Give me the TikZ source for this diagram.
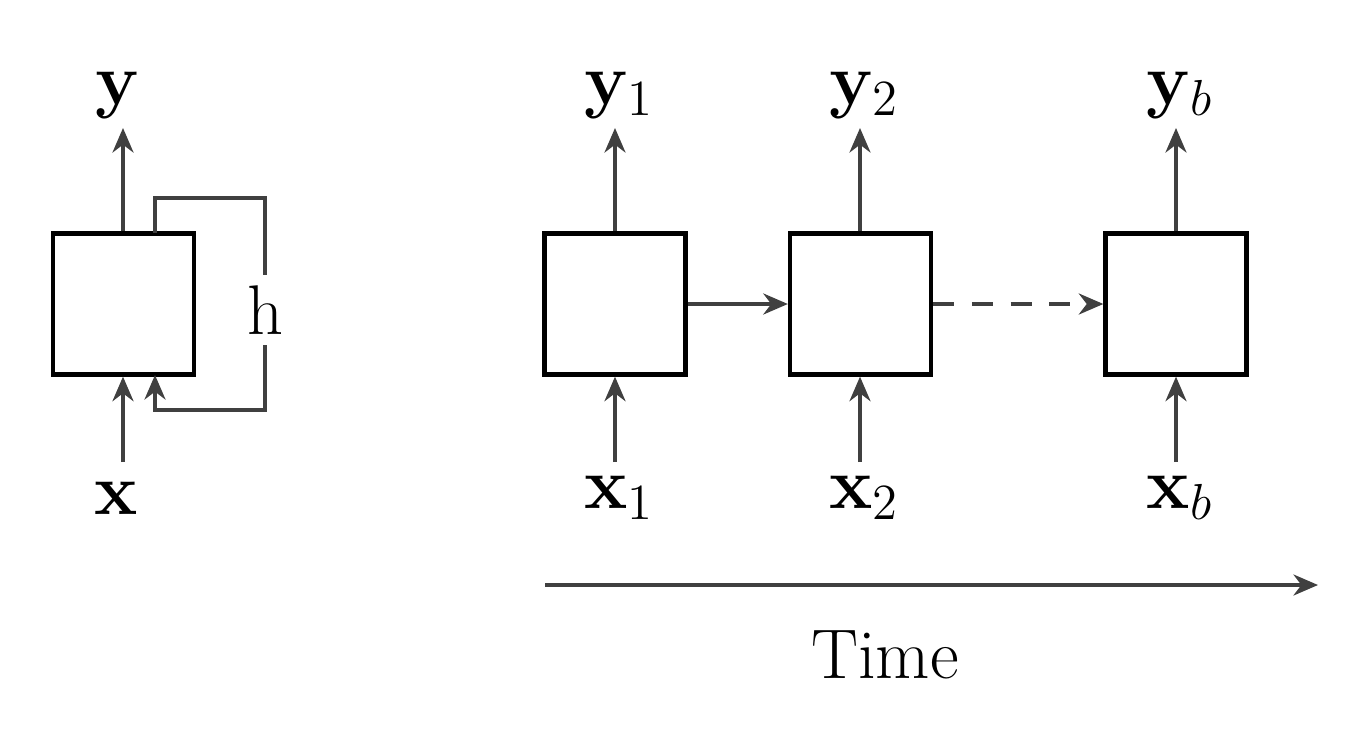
\documentclass[tikz,border=0pt]{standalone}
\usepackage{amsmath}
\usetikzlibrary{arrows.meta}
\begin{document}
\begin{tikzpicture}[x=0.01cm,y=-0.01cm,
  box/.style={draw=black,line width=1.2pt,minimum size=1.41cm,inner sep=0pt},
  arr/.style={draw={rgb,255:red,64;green,64;blue,64},line width=0.9pt,-{Stealth[length=7pt,width=6pt]}},
  lab/.style={font=\fontsize{20}{24}\selectfont,inner sep=1pt}]
\useasboundingbox (0,0) rectangle (1366,739);
\node[box] (b0) at (123.5,304) {};
\node[box] (b1) at (615,304) {};
\node[box] (b2) at (860.5,304) {};
\node[box] (b3) at (1176,304) {};
\node[lab] (y0) at (118,95) {$\mathbf{y}$};
\node[lab] (x0) at (116,498) {$\mathbf{x}$};
\node[lab] (y1) at (619,95) {$\mathbf{y}_1$};
\node[lab] (x1) at (619,498) {$\mathbf{x}_1$};
\node[lab] (y2) at (864,95) {$\mathbf{y}_2$};
\node[lab] (x2) at (864,498) {$\mathbf{x}_2$};
\node[lab] (y3) at (1180,95) {$\mathbf{y}_b$};
\node[lab] (x3) at (1180,498) {$\mathbf{x}_b$};
\coordinate (o0) at (123,128); \coordinate (i0) at (123,462);
\coordinate (o1) at (615,128); \coordinate (i1) at (615,462);
\coordinate (o2) at (860,128); \coordinate (i2) at (860,462);
\coordinate (o3) at (1176,128); \coordinate (i3) at (1176,462);
\foreach \k in {0,1,2,3}{
  \draw[arr] (o\k |- b\k.north) -- (o\k);
  \draw[arr] (i\k) -- (i\k |- b\k.south);
}
\coordinate (ls) at (155,233); \coordinate (le) at (155,375);
\draw[arr] (ls) -- (155,198) -- (265,198) -- (265,410) -- (155,410) -- (le);
\node[lab,fill=white,inner sep=3pt] (h) at (265,310) {h};
\draw[arr] (b1.east) -- (b2.west);
\draw[arr,dash pattern=on 6pt off 5pt] (b2.east) -- (b3.west);
\coordinate (t0) at (545,585); \coordinate (t1) at (1318,585);
\draw[arr] (t0) -- (t1);
\node[lab] (time) at (885,655) {Time};
\end{tikzpicture}
\end{document}
